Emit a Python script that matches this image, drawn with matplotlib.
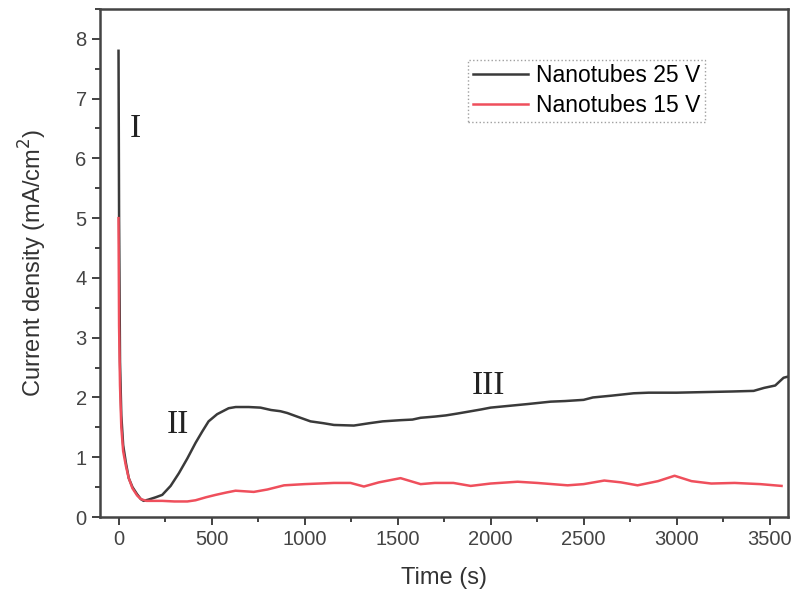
import matplotlib
matplotlib.use("Agg")
import matplotlib.pyplot as plt
from matplotlib.ticker import MultipleLocator

# Nanotubes 25 V
t_25 = [0, 3, 8, 15, 25, 40, 55, 75, 100, 120, 135, 160, 200, 235, 280, 324,
        370, 414, 450, 484, 530, 592, 630, 700, 763, 820, 870, 907, 960, 1032,
        1100, 1158, 1265, 1350, 1420, 1516, 1580, 1624, 1700, 1760, 1820, 1876,
        1950, 2000, 2100, 2200, 2323, 2400, 2500, 2550, 2650, 2769, 2850, 3000,
        3150, 3300, 3414, 3470, 3530, 3575, 3600]
j_25 = [7.8, 5.0, 2.6, 1.7, 1.2, 0.9, 0.65, 0.5, 0.38, 0.3, 0.27, 0.29, 0.33,
        0.37, 0.52, 0.73, 0.98, 1.24, 1.43, 1.6, 1.72, 1.82, 1.84, 1.84, 1.83,
        1.79, 1.77, 1.74, 1.68, 1.6, 1.57, 1.54, 1.53, 1.57, 1.6, 1.62, 1.63,
        1.66, 1.68, 1.7, 1.73, 1.76, 1.8, 1.83, 1.86, 1.89, 1.93, 1.94, 1.96,
        2.0, 2.03, 2.07, 2.08, 2.08, 2.09, 2.1, 2.11, 2.16, 2.2, 2.33, 2.35]

# Nanotubes 15 V
t_15 = [0, 3, 8, 15, 25, 40, 55, 75, 100, 120, 150, 235, 300, 370, 414, 470,
        522, 580, 629, 727, 800, 890, 1000, 1158, 1247, 1319, 1400, 1516, 1570,
        1624, 1700, 1800, 1893, 2000, 2145, 2250, 2414, 2500, 2611, 2700, 2790,
        2900, 2989, 3080, 3186, 3312, 3450, 3564]
j_15 = [5.0, 3.2, 2.2, 1.5, 1.1, 0.85, 0.65, 0.48, 0.36, 0.3, 0.27, 0.27, 0.26,
        0.26, 0.28, 0.33, 0.37, 0.41, 0.44, 0.42, 0.46, 0.53, 0.55, 0.57, 0.57,
        0.51, 0.58, 0.65, 0.6, 0.55, 0.57, 0.57, 0.52, 0.56, 0.59, 0.57, 0.53,
        0.55, 0.61, 0.58, 0.53, 0.6, 0.69, 0.6, 0.56, 0.57, 0.55, 0.52]

labels = ["Nanotubes 25 V", "Nanotubes 15 V"]

# region markers (label, time, current density)
regions = [("I", 91, 6.5), ("II", 317, 1.54), ("III", 1989, 2.19)]

plt.rcParams["font.family"] = ["Liberation Sans", "DejaVu Sans"]

fig = plt.figure(figsize=(7.93, 5.97), dpi=100)
ax = fig.add_axes([0.126, 0.134, 0.868, 0.851])

ax.plot(t_25, j_25, color="#3a3a3a", lw=1.8, label=labels[0])
ax.plot(t_15, j_15, color="#ef4f5c", lw=1.8, label=labels[1])

for txt, tx, ty in regions:
    ax.text(tx, ty, txt, family="Liberation Serif", fontsize=24,
            ha="center", va="center", color="#222222")

ax.set_xlim(-100, 3600)
ax.set_ylim(0, 8.5)
ax.xaxis.set_major_locator(MultipleLocator(500))
ax.xaxis.set_minor_locator(MultipleLocator(250))
ax.yaxis.set_major_locator(MultipleLocator(1))
ax.yaxis.set_minor_locator(MultipleLocator(0.5))
ax.tick_params(which="both", direction="out", color="#333333",
               labelcolor="#444444", labelsize=14.5)
ax.tick_params(which="major", length=6, width=1.3)
ax.tick_params(which="minor", length=3.5, width=1.3)

for sp in ax.spines.values():
    sp.set_color("#444444")
    sp.set_linewidth(1.8)

ax.set_xlabel("Time (s)", fontsize=17, color="#333333", labelpad=13)
ax.set_ylabel("Current density (mA/cm$^2$)", fontsize=17, color="#333333",
              labelpad=19)

leg = ax.legend(loc="upper left", bbox_to_anchor=(0.535, 0.9), fontsize=16.5,
                frameon=True, fancybox=False, handlelength=2.4,
                handletextpad=0.35, borderpad=0.2, labelspacing=0.3,
                borderaxespad=0)
leg.get_frame().set_edgecolor("#888888")
leg.get_frame().set_linestyle(":")
leg.get_frame().set_linewidth(1.0)

fig.savefig("out.png", dpi=100)
